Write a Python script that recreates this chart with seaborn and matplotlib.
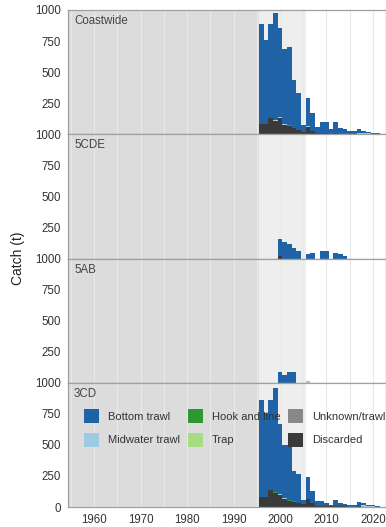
import numpy as np
import pandas as pd
import matplotlib
matplotlib.use("Agg")
import matplotlib.pyplot as plt
from matplotlib.patches import Patch
import seaborn as sns

# ---------------- data ----------------
years = list(range(1996, 2022))
gears = ["Bottom trawl", "Midwater trawl", "Hook and line", "Trap",
         "Unknown/trawl", "Discarded"]
gear_colors = ["#2062A6", "#9DCAE3", "#2F972F", "#A7DC85", "#888888", "#3A3A3A"]
areas = ["Coastwide", "5CDE", "5AB", "3CD"]

# totals (t) per year, 1996..2021
coast_total = [886, 762, 886, 978, 856, 688, 705, 439, 331, 73, 293, 168, 57,
               95, 95, 43, 100, 49, 46, 30, 25, 41, 24, 16, 12, 8]
coast_disc = [79, 79, 127, 106, 127, 73, 68, 49, 35, 19, 57, 24, 8,
              8, 8, 6, 8, 6, 5, 4, 4, 5, 3, 2, 2, 1]
coast_mid = [0, 0, 0, 5, 5, 5, 5, 0, 0, 0, 10, 0, 0,
             0, 0, 0, 0, 0, 0, 0, 0, 4, 10, 6, 4, 2]
coast_hl = [0, 0, 0, 3, 4, 4, 4, 3, 3, 0, 0, 0, 0,
            0, 0, 0, 0, 0, 0, 0, 0, 0, 0, 0, 0, 0]

cde_total = [0, 0, 0, 0, 157, 136, 117, 83, 59, 0, 37, 48, 0,
             59, 59, 0, 48, 37, 24, 0, 0, 0, 0, 0, 0, 0]
cde_disc = [0, 0, 0, 0, 20, 0, 0, 0, 0, 0, 0, 0, 0,
            0, 0, 0, 0, 0, 0, 0, 0, 0, 0, 0, 0, 0]

ab_total = [0, 0, 0, 0, 89, 65, 83, 83, 0, 0, 0, 0, 0,
            0, 0, 0, 0, 0, 0, 0, 0, 0, 0, 0, 0, 0]
ab_mid = [0, 0, 0, 0, 0, 0, 0, 0, 0, 0, 12, 0, 0,
          0, 0, 0, 0, 0, 0, 0, 0, 0, 0, 0, 0, 0]

cd_total = [864, 755, 864, 957, 670, 496, 496, 288, 264, 56, 243, 131, 48,
            48, 29, 20, 56, 29, 25, 15, 20, 37, 35, 20, 15, 10]
cd_disc = [83, 83, 136, 115, 96, 61, 51, 43, 29, 24, 61, 29, 8,
           8, 6, 5, 8, 6, 5, 4, 4, 5, 3, 2, 2, 1]
cd_mid = [0, 0, 0, 4, 4, 4, 4, 0, 0, 0, 0, 0, 0,
          0, 0, 0, 0, 0, 0, 0, 0, 4, 12, 6, 4, 2]
cd_hl = [0, 0, 0, 3, 4, 4, 4, 3, 3, 0, 0, 0, 0,
         0, 0, 0, 0, 0, 0, 0, 0, 0, 0, 0, 0, 0]

xtick_labels = [1960, 1970, 1980, 1990, 2000, 2010, 2020]
ytick_values = [0, 250, 500, 750, 1000]


def build(area, total, disc, mid=None, hl=None):
    zero = [0] * len(years)
    mid = mid or zero
    hl = hl or zero
    rows = []
    for i, y in enumerate(years):
        bt = max(total[i] - disc[i] - mid[i] - hl[i], 0)
        vals = {"Bottom trawl": bt, "Midwater trawl": mid[i],
                "Hook and line": hl[i], "Trap": 0, "Unknown/trawl": 0,
                "Discarded": disc[i]}
        for g in gears:
            rows.append({"area": area, "year": y, "gear": g, "catch": vals[g]})
    return rows


rows = []
rows += build("Coastwide", coast_total, coast_disc, coast_mid, coast_hl)
rows += build("5CDE", cde_total, cde_disc)
rows += build("5AB", ab_total, [0] * len(years), ab_mid)
rows += build("3CD", cd_total, cd_disc, cd_mid, cd_hl)
df = pd.DataFrame(rows)

# ---------------- figure ----------------
sns.set_theme(style="white")
plt.rcParams["font.family"] = ["Liberation Sans", "DejaVu Sans"]

W, H = 386, 527
fig = plt.figure(figsize=(W / 100, H / 100), dpi=100)
left, right = 68 / W, 1.0
top, bottom = 1 - 10 / H, 1 - 507 / H
gs = fig.add_gridspec(4, 1, left=left, right=right, top=top, bottom=bottom,
                      hspace=0)
palette = dict(zip(gears, gear_colors))
xmin, xmax = 1954.4, 2022.8

axes = []
for k, area in enumerate(areas):
    ax = fig.add_subplot(gs[k])
    axes.append(ax)
    ax.axvspan(xmin - 5, 1995.5, color="#DCDCDC", lw=0, zorder=0)
    ax.axvspan(1995.5, 2005.5, color="#EEEEEE", lw=0, zorder=0)
    for xv in range(1955, 2025, 5):
        ax.axvline(xv, color="#E9E9E9", lw=0.8, zorder=0.5)
    sub = df[df["area"] == area]
    sns.histplot(data=sub, x="year", weights="catch", hue="gear",
                 hue_order=gears, palette=palette, multiple="stack",
                 discrete=True, element="bars", alpha=1, linewidth=0,
                 legend=False, ax=ax, zorder=2)
    ax.set_xlim(xmin, xmax)
    ax.set_ylim(0, 1000)
    ax.set_yticks(ytick_values)
    # the lowest label of the upper panels sits under the "1000" of the next
    labels = [str(v) for v in ytick_values]
    if k < 3:
        labels[0] = ""
    ax.set_yticklabels(labels)
    ax.set_xticks(xtick_labels)
    ax.set_ylabel("")
    ax.set_xlabel("")
    ax.tick_params(axis="y", length=3, width=0.6, color="#888888",
                   labelsize=8.3, labelcolor="#333333", pad=2)
    ax.tick_params(axis="x", length=3, width=0.6, color="#888888",
                   labelsize=8.3, labelcolor="#333333", pad=2)
    if k < 3:
        ax.tick_params(axis="x", labelbottom=False, length=0)
    for s in ax.spines.values():
        s.set_color("#A0A0A0")
        s.set_linewidth(0.9)
        s.set_zorder(5)
    ax.text(6 / (W * (right - left)), 1 - 5 / 124, area, transform=ax.transAxes,
            ha="left", va="top", fontsize=8.3, color="#444444", zorder=6)
    ax.set_facecolor("white")

fig.text(18 / W, 1 - 258 / H, "Catch (t)", rotation=90, ha="center",
         va="center", fontsize=10, color="#222222")

handles = [Patch(facecolor=c, edgecolor="none", label=g)
           for g, c in zip(gears, gear_colors)]
leg = axes[3].legend(handles=handles, ncol=3, loc="upper left",
                     bbox_to_anchor=(16 / 318, 1 - 26 / 124), frameon=False,
                     fontsize=8, handlelength=1.35, handleheight=1.6,
                     handletextpad=0.8, labelspacing=0.86, columnspacing=0.7,
                     borderpad=0, borderaxespad=0)
for t in leg.get_texts():
    t.set_color("#333333")
leg.set_zorder(10)

fig.savefig("out.png", dpi=100)
